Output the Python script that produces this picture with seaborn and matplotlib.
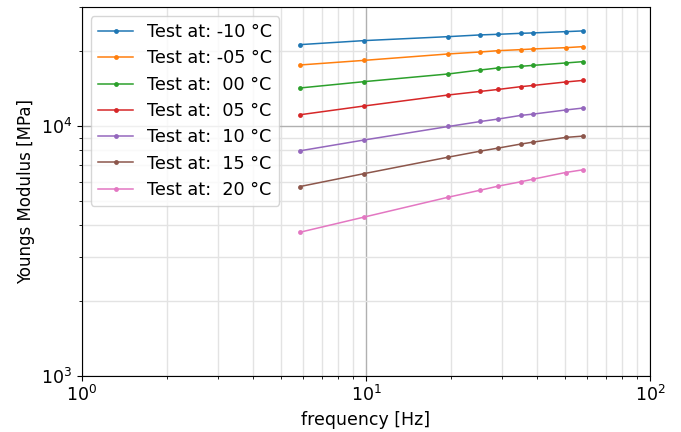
import matplotlib
matplotlib.use("Agg")
import matplotlib.pyplot as plt
import seaborn as sns
import pandas as pd

# frequencies (Hz)
freq = [5.85, 9.8, 19.5, 25.3, 29.2, 35.0, 38.8, 50.4, 58.0]

labels = ["Test at: -10 °C", "Test at: -05 °C", "Test at:  00 °C",
          "Test at:  05 °C", "Test at:  10 °C", "Test at:  15 °C",
          "Test at:  20 °C"]

# Youngs modulus [MPa] per temperature
e_m10 = [21250, 22050, 22880, 23250, 23380, 23590, 23680, 23960, 24120]
e_m05 = [17610, 18370, 19500, 19860, 20100, 20290, 20420, 20660, 20860]
e_00 = [14240, 15090, 16210, 16820, 17130, 17390, 17550, 17940, 18160]
e_05 = [11120, 12050, 13350, 13800, 14050, 14410, 14580, 15050, 15270]
e_10 = [7970, 8800, 9980, 10450, 10690, 11050, 11190, 11620, 11830]
e_15 = [5730, 6450, 7520, 7950, 8175, 8480, 8640, 9020, 9130]
e_20 = [3757, 4317, 5195, 5543, 5752, 5985, 6137, 6524, 6688]

series = [e_m10, e_m05, e_00, e_05, e_10, e_15, e_20]

# long-form table for seaborn
rows = []
for lab, vals in zip(labels, series):
    for f, e in zip(freq, vals):
        rows.append({"freq": f, "E": e, "test": lab})
df = pd.DataFrame(rows)

fig = plt.figure(figsize=(6.81, 4.32), dpi=100)
ax = fig.add_axes([0.1204, 0.1306, 0.8341, 0.8525])

sns.lineplot(data=df, x="freq", y="E", hue="test", hue_order=labels,
             palette="tab10", marker="o", markersize=3.5, markeredgewidth=0,
             linewidth=1.1, sort=False, errorbar=None, ax=ax)

ax.set_xscale("log")
ax.set_yscale("log")
ax.set_xlim(1, 100)
ax.set_ylim(1000, 30000)

ax.grid(True, which="major", color="#b0b0b0", linewidth=1.0)
ax.grid(True, which="minor", color="#e3e3e3", linewidth=1.0)
ax.set_axisbelow(True)

ax.set_xlabel("frequency [Hz]", fontsize=12.5)
ax.set_ylabel("Youngs Modulus [MPa]", fontsize=12)
ax.tick_params(axis="both", which="major", labelsize=12.5)
ax.tick_params(axis="y", which="minor", labelleft=False)

ax.legend(loc="upper left", fontsize=12.7, handlelength=2.0,
          labelspacing=0.47)

fig.savefig("out.png", dpi=100)
